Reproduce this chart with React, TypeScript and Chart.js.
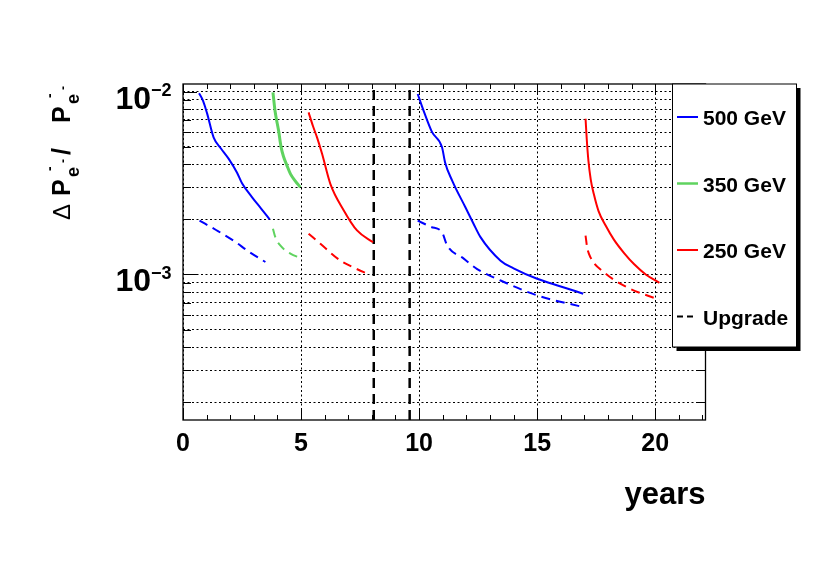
import React, { useEffect, useRef } from "react";
import { Chart, registerables } from "chart.js";

Chart.register(...registerables);

// ---------- axis ranges & ticks ----------
const X_MIN = 0;
const X_MAX = 22.13;
const Y_MIN = 1.6e-4;
const Y_MAX = 1.1e-2;
const xTickValues = [0, 5, 10, 15, 20];
const xTickLabels = ["0", "5", "10", "15", "20"];
const yDecadeValues = [1e-3, 1e-2];
const yDecadeExponents = ["\u22123", "\u22122"];
const yGridValues = [
  2e-4, 3e-4, 4e-4, 5e-4, 6e-4, 7e-4, 8e-4, 9e-4,
  1e-3, 2e-3, 3e-3, 4e-3, 5e-3, 6e-3, 7e-3, 8e-3, 9e-3, 1e-2,
];
const xTitle = "years";

// ---------- series (years, ΔP/P) ----------
// 500 GeV, first run
const run500aX = [0.68, 0.85, 1.02, 1.3, 1.6, 1.93, 2.29, 2.5, 2.92, 3.3, 3.67];
const run500aY = [9.8e-3, 8.9e-3, 7.6e-3, 5.6e-3, 4.9e-3, 4.3e-3, 3.6e-3, 3.15e-3, 2.65e-3, 2.3e-3, 2.0e-3];
const run500aUpX = [0.7, 1.4, 2.14, 2.8, 3.49];
const run500aUpY = [1.97e-3, 1.75e-3, 1.53e-3, 1.33e-3, 1.17e-3];

// 350 GeV
const run350X = [3.81, 3.9, 4.05, 4.15, 4.26, 4.4, 4.55, 4.75, 4.97];
const run350Y = [9.9e-3, 7.8e-3, 6.1e-3, 5.0e-3, 4.4e-3, 3.95e-3, 3.55e-3, 3.25e-3, 3.0e-3];
const run350UpX = [3.81, 3.91, 4.12, 4.55, 4.97];
const run350UpY = [1.78e-3, 1.6e-3, 1.44e-3, 1.3e-3, 1.23e-3];

// 250 GeV, first run
const run250aX = [5.32, 5.5, 5.68, 5.89, 6.24, 6.81, 7.37, 8.05];
const run250aY = [7.7e-3, 6.5e-3, 5.6e-3, 4.57e-3, 3.13e-3, 2.24e-3, 1.74e-3, 1.5e-3];
const run250aUpX = [5.32, 5.82, 6.67, 7.3, 7.87];
const run250aUpY = [1.67e-3, 1.47e-3, 1.19e-3, 1.08e-3, 1.0e-3];

// 500 GeV, second run
const run500bX = [9.94, 10.2, 10.55, 10.97, 11.1, 11.4, 11.96, 12.3, 12.6, 13.45, 14.0, 15.0, 16.0, 16.95];
const run500bY = [9.7e-3, 7.8e-3, 6.0e-3, 4.96e-3, 4.1e-3, 3.26e-3, 2.33e-3, 1.9e-3, 1.6e-3, 1.19e-3, 1.08e-3, 9.47e-4, 8.6e-4, 7.85e-4];
const run500bUpX = [9.94, 10.5, 10.97, 11.19, 11.89, 12.46, 13.45, 15.0, 16.95];
const run500bUpY = [1.97e-3, 1.82e-3, 1.7e-3, 1.44e-3, 1.22e-3, 1.07e-3, 9.27e-4, 7.68e-4, 6.63e-4];

// 250 GeV, second run
const run250bX = [17.05, 17.1, 17.17, 17.27, 17.4, 17.6, 17.9, 18.25, 18.7, 19.1, 19.6, 20.18];
const run250bY = [7.1e-3, 5.5e-3, 4.2e-3, 3.3e-3, 2.75e-3, 2.22e-3, 1.85e-3, 1.55e-3, 1.3e-3, 1.14e-3, 1.0e-3, 9.0e-4];
const run250bUpX = [17.05, 17.12, 17.26, 17.82, 18.81, 20.18];
const run250bUpY = [1.63e-3, 1.4e-3, 1.24e-3, 1.03e-3, 8.5e-4, 7.27e-4];

// upgrade times (vertical dashed lines)
const upgradeTimes = [8.08, 9.6];

// legend
const legendLabels = ["500 GeV", "350 GeV", "250 GeV", "Upgrade"];

const BLUE = "#0000ff";
const GREEN = "#5fd35f";
const RED = "#ff0000";
const BLACK = "#000000";
const legendColors = [BLUE, GREEN, RED, BLACK];
const legendDashed = [false, false, false, true];

const FONT = '"Liberation Sans", Arial, Helvetica, sans-serif';

function zip(xs: number[], ys: number[]) {
  return xs.map((x, i) => ({ x, y: ys[i] }));
}

function lineDs(xs: number[], ys: number[], color: string, dashed: boolean, width = 2) {
  return {
    data: zip(xs, ys),
    borderColor: color,
    borderWidth: width,
    borderDash: dashed ? [9, 6] : [],
    pointRadius: 0,
    fill: false,
    cubicInterpolationMode: "monotone" as const,
  };
}

const rootPlugin = {
  id: "rootStyle",
  afterDraw(chart: any) {
    const ctx: CanvasRenderingContext2D = chart.ctx;
    const xs = chart.scales.x;
    const ys = chart.scales.y;
    const { left, right, top, bottom } = chart.chartArea;
    ctx.save();
    ctx.strokeStyle = BLACK;
    ctx.fillStyle = BLACK;
    ctx.setLineDash([]);

    // tick marks
    ctx.lineWidth = 1;
    ctx.beginPath();
    for (let v = 0; v <= Math.floor(X_MAX); v++) {
      const px = Math.round(xs.getPixelForValue(v)) + 0.5;
      const len = v % 5 === 0 ? 10 : 5;
      ctx.moveTo(px, bottom);
      ctx.lineTo(px, bottom - len);
      ctx.moveTo(px, top);
      ctx.lineTo(px, top + len);
    }
    for (let e = -4; e <= -2; e++) {
      for (let m = 1; m <= 9; m++) {
        const v = m * Math.pow(10, e);
        if (v < Y_MIN || v > Y_MAX) continue;
        const py = Math.round(ys.getPixelForValue(v)) + 0.5;
        const len = m === 1 ? 14 : 8;
        ctx.moveTo(left, py);
        ctx.lineTo(left + len, py);
        ctx.moveTo(right, py);
        ctx.lineTo(right - len, py);
      }
    }
    ctx.stroke();

    // frame
    ctx.lineWidth = 1.3;
    ctx.strokeRect(left, top, right - left, bottom - top);

    // x tick labels
    ctx.font = `bold 25px ${FONT}`;
    ctx.textAlign = "center";
    ctx.textBaseline = "alphabetic";
    xTickValues.forEach((v, i) => {
      ctx.fillText(xTickLabels[i], xs.getPixelForValue(v), bottom + 31);
    });

    // y tick labels 10^n
    yDecadeValues.forEach((v, i) => {
      const py = ys.getPixelForValue(v);
      ctx.font = `bold 32px ${FONT}`;
      ctx.textAlign = "right";
      ctx.fillText("10", 151, py + 17);
      ctx.font = `bold 18px ${FONT}`;
      ctx.textAlign = "left";
      ctx.fillText(yDecadeExponents[i], 151, py + 4.5);
    });

    // x title
    ctx.font = `bold 31px ${FONT}`;
    ctx.textAlign = "right";
    ctx.fillText(xTitle, right, 503.5);

    // y title: Δ P^-_{e^-} / P^-_{e^-}
    ctx.save();
    ctx.translate(70, 152);
    ctx.rotate(-Math.PI / 2);
    ctx.textAlign = "left";
    ctx.font = `24px ${FONT}`;
    ctx.fillText("\u0394", -68, 0);
    const drawP = (u: number) => {
      ctx.font = `bold 25px ${FONT}`;
      ctx.fillText("P", u, 0);
      ctx.font = `bold 14px ${FONT}`;
      ctx.fillText("-", u + 25, -16);
      ctx.font = `bold 18px ${FONT}`;
      ctx.fillText("e", u + 19, 9);
      ctx.font = `bold 12px ${FONT}`;
      ctx.fillText("-", u + 33, -3);
    };
    drawP(-44);
    ctx.font = `bold 25px ${FONT}`;
    ctx.fillText("/", -3, 0);
    drawP(29);
    ctx.restore();

    // legend box with shadow
    const lx = 672.5, ly = 84, lw = 124, lh = 263;
    ctx.fillStyle = BLACK;
    ctx.fillRect(lx + 4, ly + 4, lw, lh);
    ctx.fillStyle = "#ffffff";
    ctx.fillRect(lx, ly, lw, lh);
    ctx.lineWidth = 1;
    ctx.strokeStyle = BLACK;
    ctx.strokeRect(lx, ly, lw, lh);
    legendLabels.forEach((lab, i) => {
      const cy = 117 + i * 66.5;
      ctx.strokeStyle = legendColors[i];
      ctx.lineWidth = legendColors[i] === GREEN ? 2.5 : 2;
      ctx.setLineDash(legendDashed[i] ? [6, 4] : []);
      ctx.beginPath();
      ctx.moveTo(677, cy);
      ctx.lineTo(legendDashed[i] ? 693 : 698, cy);
      ctx.stroke();
      ctx.setLineDash([]);
      ctx.fillStyle = BLACK;
      ctx.font = `bold 21px ${FONT}`;
      ctx.textAlign = "left";
      ctx.fillText(lab, 703, cy + 8.3);
    });
    ctx.restore();
  },
};

export default function App() {
  const ref = useRef<HTMLCanvasElement | null>(null);
  useEffect(() => {
    if (!ref.current) return;
    const datasets: any[] = [
      lineDs(run500aX, run500aY, BLUE, false),
      lineDs(run500aUpX, run500aUpY, BLUE, true),
      lineDs(run350X, run350Y, GREEN, false, 3),
      lineDs(run350UpX, run350UpY, GREEN, true),
      lineDs(run250aX, run250aY, RED, false),
      lineDs(run250aUpX, run250aUpY, RED, true),
      lineDs(run500bX, run500bY, BLUE, false),
      lineDs(run500bUpX, run500bUpY, BLUE, true),
      lineDs(run250bX, run250bY, RED, false),
      lineDs(run250bUpX, run250bUpY, RED, true),
      ...upgradeTimes.map((t) => ({
        data: [
          { x: t, y: Y_MIN },
          { x: t, y: Y_MAX },
        ],
        borderColor: BLACK,
        borderWidth: 2.5,
        borderDash: [10, 6],
        pointRadius: 0,
        fill: false,
      })),
    ];
    const chart = new Chart(ref.current, {
      type: "line",
      data: { datasets },
      options: {
        animation: false,
        responsive: false,
        maintainAspectRatio: false,
        layout: { padding: { left: 183, right: 124.5, top: 84, bottom: 141 } },
        plugins: { legend: { display: false }, tooltip: { enabled: false } },
        scales: {
          x: {
            type: "linear",
            min: X_MIN,
            max: X_MAX,
            afterBuildTicks: (s: any) => {
              s.ticks = xTickValues.map((v) => ({ value: v }));
            },
            ticks: { display: false },
            grid: { color: BLACK, lineWidth: 1, drawTicks: false },
            border: { display: false, dash: [2, 2.5] },
          },
          y: {
            type: "logarithmic",
            min: Y_MIN,
            max: Y_MAX,
            afterBuildTicks: (s: any) => {
              s.ticks = yGridValues.map((v) => ({ value: v }));
            },
            ticks: { display: false },
            grid: { color: BLACK, lineWidth: 1, drawTicks: false },
            border: { display: false, dash: [2, 2.5] },
          },
        },
      } as any,
      plugins: [rootPlugin],
    });
    return () => chart.destroy();
  }, []);
  return (
    <div style={{ position: "absolute", left: 0, top: 0, width: 830, height: 561, background: "#fff" }}>
      <canvas ref={ref} width={830} height={561} style={{ display: "block" }} />
    </div>
  );
}
